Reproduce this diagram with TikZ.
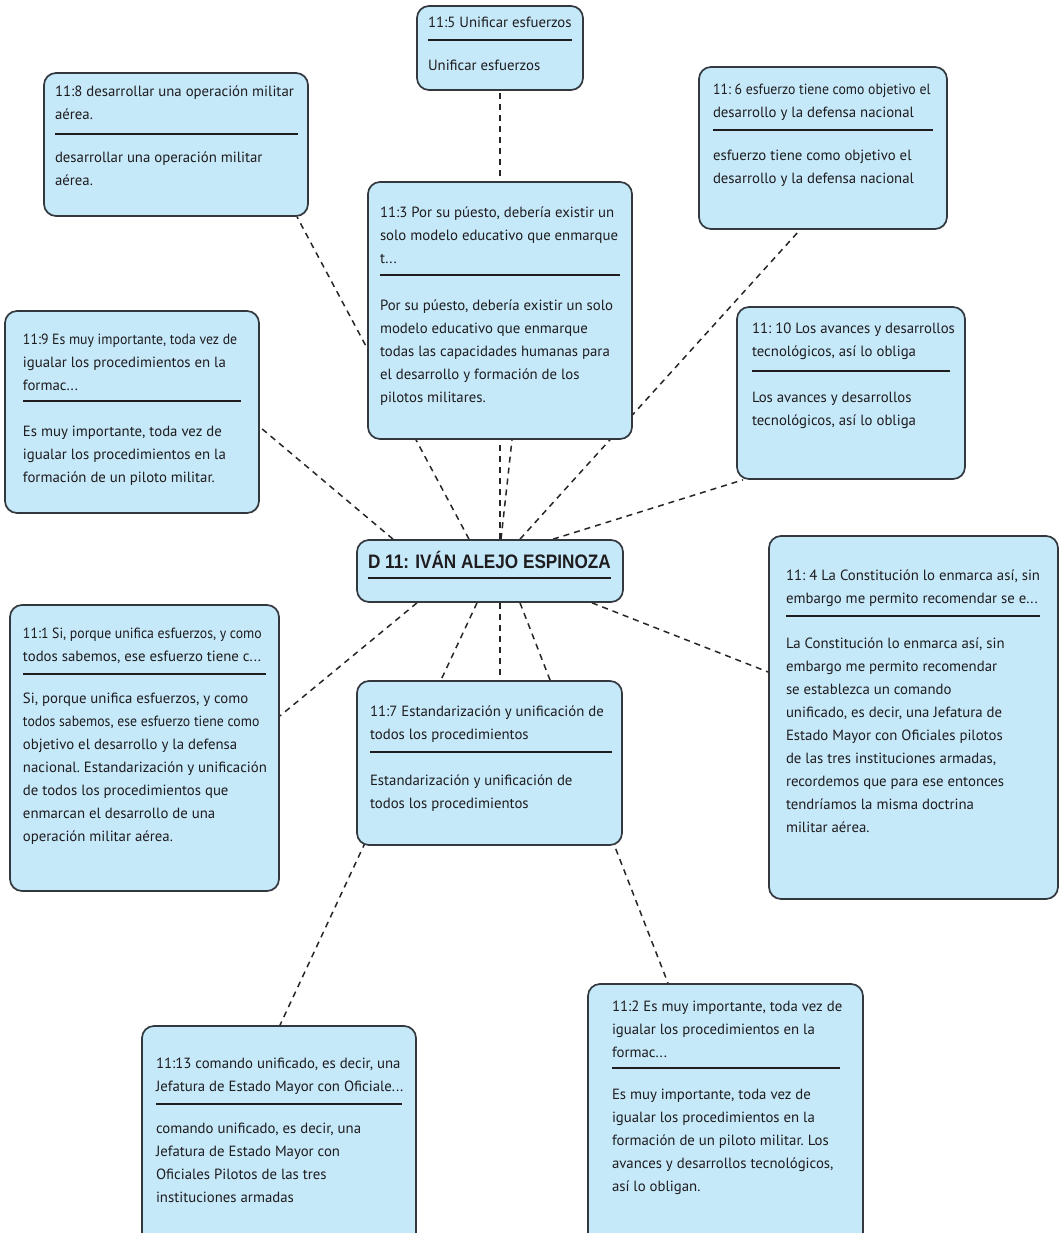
\documentclass[tikz,border=0pt]{standalone}
\usepackage{fontspec}
\setmainfont{PT Sans}
\newfontfamily\titlefont{Liberation Sans}[FakeStretch=0.88]
\usetikzlibrary{calc,backgrounds}
\definecolor{cardfill}{RGB}{198,233,250}
\definecolor{cardline}{RGB}{50,56,62}
\definecolor{ink}{RGB}{30,28,30}
\tikzset{
  cardbox/.style={draw=cardline, fill=cardfill, line width=1.7pt, rounded corners=12pt, inner sep=0pt},
  txt/.style={inner sep=0pt, outer sep=0pt, anchor=base west, text=ink, font=\fontsize{14.8}{23}\selectfont},
  hrule/.style={draw=ink, line width=2pt},
  link/.style={draw=black!85, line width=1.5pt, dash pattern=on 6pt off 5pt},
}
\newcommand\lines[1]{\parbox[t]{300pt}{\raggedright\frenchspacing #1}}
\newcommand\cz[1]{{\addfontfeature{FakeStretch=0.93}#1}}
\begin{document}
\begin{tikzpicture}[x=1pt,y=-1pt]
\useasboundingbox (0,0) rectangle (1062,1233);

% ---- cards
\node[cardbox, minimum width=166, minimum height=84] (c5) at (500,48) {};
\node[txt] (c5h) at (428,28) {\lines{11:5 Unificar esfuerzos}};
\draw[hrule] (428,40) -- (572,40);
\node[txt] (c5b) at (428,71) {\lines{Unificar esfuerzos}};

\node[cardbox, minimum width=264, minimum height=143] (c8) at (176,144.5) {};
\node[txt] (c8h) at (55,97) {\lines{11:8 desarrollar una operación militar\\aérea.}};
\draw[hrule] (55,134) -- (298,134);
\node[txt] (c8b) at (55,163) {\lines{desarrollar una operación militar\\aérea.}};

\node[cardbox, minimum width=248, minimum height=162] (c6) at (823,148) {};
\node[txt] (c6h) at (713,95) {\lines{\cz{11: 6 esfuerzo tiene como objetivo el}\\desarrollo y la defensa nacional}};
\draw[hrule] (713,130) -- (933,130);
\node[txt] (c6b) at (713,161) {\lines{esfuerzo tiene como objetivo el\\desarrollo y la defensa nacional}};

\node[cardbox, minimum width=264, minimum height=257] (c3) at (500,310.5) {};
\node[txt] (c3h) at (380,218) {\lines{11:3 Por su púesto, debería existir un\\solo modelo educativo que enmarque\\t...}};
\draw[hrule] (380,275) -- (620,275);
\node[txt] (c3b) at (380,310) {\lines{Por su púesto, debería existir un solo\\modelo educativo que enmarque\\todas las capacidades humanas para\\el desarrollo y formación de los\\pilotos militares.}};

\node[cardbox, minimum width=254, minimum height=202] (c9) at (132,412) {};
\node[txt] (c9h) at (23,344) {\lines{\cz{11:9 Es muy importante, toda vez de}\\igualar los procedimientos en la\\formac...}};
\draw[hrule] (23,401) -- (241,401);
\node[txt] (c9b) at (23,436) {\lines{Es muy importante, toda vez de\\igualar los procedimientos en la\\formación de un piloto militar.}};

\node[cardbox, minimum width=228, minimum height=172] (c10) at (851,393) {};
\node[txt] (c10h) at (752,333) {\lines{11: 10 Los avances y desarrollos\\tecnológicos, así lo obliga}};
\draw[hrule] (752,371) -- (950,371);
\node[txt] (c10b) at (752,402) {\lines{Los avances y desarrollos\\tecnológicos, así lo obliga}};

\node[cardbox, minimum width=266, minimum height=62] (d11) at (490,571) {};
\node[txt, font=\titlefont\fontsize{19.5}{22}\selectfont\bfseries] (d11t) at (368,568) {D 11: IVÁN ALEJO ESPINOZA};
\draw[hrule, line width=2.6pt] (368,578) -- (611,578);

\node[cardbox, minimum width=269, minimum height=286] (c1) at (144.5,748) {};
\node[txt] (c1h) at (23,638) {\lines{\cz{11:1 Si, porque unifica esfuerzos, y como}\\todos sabemos, ese esfuerzo tiene c...}};
\draw[hrule] (23,674) -- (266,674);
\node[txt] (c1b) at (23,703) {\lines{Si, porque unifica esfuerzos, y como\\\cz{todos sabemos, ese esfuerzo tiene como}\\objetivo el desarrollo y la defensa\\nacional. Estandarización y unificación\\de todos los procedimientos que\\enmarcan el desarrollo de una\\operación militar aérea.}};

\node[cardbox, minimum width=265, minimum height=164] (c7) at (489.5,763) {};
\node[txt] (c7h) at (370,716) {\lines{11:7 Estandarización y unificación de\\todos los procedimientos}};
\draw[hrule] (370,752) -- (612,752);
\node[txt] (c7b) at (370,785) {\lines{Estandarización y unificación de\\todos los procedimientos}};

\node[cardbox, minimum width=289, minimum height=363] (c4) at (913.5,717.5) {};
\node[txt] (c4h) at (786,580) {\lines{11: 4 La Constitución lo enmarca así, sin\\embargo me permito recomendar se e...}};
\draw[hrule] (786,616) -- (1040,616);
\node[txt] (c4b) at (786,648) {\lines{La Constitución lo enmarca así, sin\\embargo me permito recomendar\\se establezca un comando\\unificado, es decir, una Jefatura de\\Estado Mayor con Oficiales pilotos\\de las tres instituciones armadas,\\recordemos que para ese entonces\\tendríamos la misma doctrina\\militar aérea.}};

\node[cardbox, minimum width=274, minimum height=219] (c13) at (279,1135.5) {};
\node[txt] (c13h) at (156,1068) {\lines{11:13 comando unificado, es decir, una\\Jefatura de Estado Mayor con Oficiale...}};
\draw[hrule] (156,1104) -- (402,1104);
\node[txt] (c13b) at (156,1133) {\lines{comando unificado, es decir, una\\Jefatura de Estado Mayor con\\Oficiales Pilotos de las tres\\instituciones armadas}};

\node[cardbox, minimum width=275, minimum height=261] (c2) at (725.5,1114.5) {};
\node[txt] (c2h) at (612,1011) {\lines{11:2 Es muy importante, toda vez de\\igualar los procedimientos en la\\formac...}};
\draw[hrule] (612,1068) -- (840,1068);
\node[txt] (c2b) at (612,1099) {\lines{Es muy importante, toda vez de\\igualar los procedimientos en la\\formación de un piloto militar. Los\\avances y desarrollos tecnológicos,\\así lo obligan.}};

% ---- connectors
\begin{scope}[on background layer]
\draw[link] ($(d11.north)+(10,0)$)  -- (c5.south);
\draw[link] ($(d11.north)+(11,0)$)  -- ($(c3.south)+(12,0)$);
\draw[link] ($(d11.north)+(-21,0)$) -- ($(c8.south)+(121,0)$);
\draw[link] ($(d11.north)+(30,0)$)  -- ($(c6.south)+(-23,0)$);
\draw[link] ($(d11.north)+(-97,0)$) -- ($(c9.east)+(0,15)$);
\draw[link] ($(d11.north)+(63,0)$)  -- ($(c10.south)+(-108,0)$);
\draw[link] ($(d11.south)+(-73,0)$) -- ($(c1.east)+(0,-32)$);
\draw[link] ($(d11.south)+(-13,0)$) -- ($(c13.north)+(1,0)$);
\draw[link] ($(d11.south)+(10,0)$)  -- ($(c7.north)+(10.5,0)$);
\draw[link] ($(d11.south)+(30,0)$)  -- ($(c2.north)+(-57.5,0)$);
\draw[link] ($(d11.south)+(102,0)$) -- ($(c4.west)+(0,-45.5)$);
\end{scope}
\end{tikzpicture}
\end{document}
